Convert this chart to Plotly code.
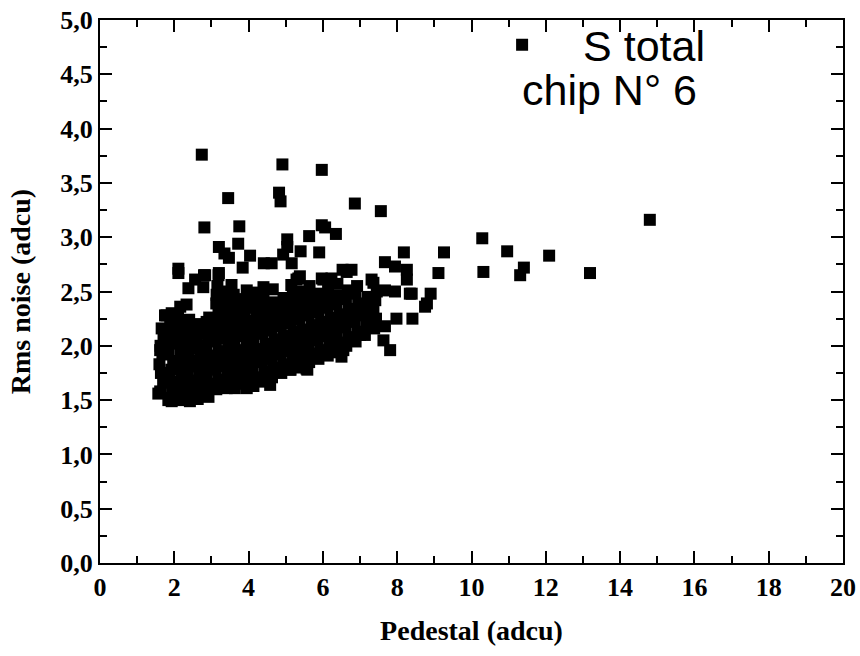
import plotly.graph_objects as go

# pedestal (adcu) and rms noise (adcu) per strip
pedestal = [
    2.74, 4.91, 5.97, 3.45, 4.82, 4.86, 2.81, 3.75, 5.97, 6.06, 5.63, 5.04, 5.04, 3.72, 3.20, 3.35,
    3.47, 4.04, 5.40, 5.90, 4.93, 4.41, 4.62, 5.16, 3.84, 2.11, 2.11, 2.80, 3.20, 5.34, 5.97, 2.56,
    6.86, 7.56, 6.35, 10.29, 8.18, 9.26, 6.53, 6.77, 7.67, 7.94, 8.26, 9.11, 10.32, 7.31, 6.23, 5.38,
    10.96, 12.09, 11.41, 11.31, 13.19, 14.80,
    8.26, 8.39, 8.90, 8.75, 7.98, 8.41, 7.67, 7.63, 7.81, 7.36, 7.94, 5.58,
    2.38, 1.75, 1.62, 1.57, 1.84, 2.42, 2.92, 4.58, 3.41, 3.95, 1.93, 2.78, 3.14, 3.54, 3.95, 4.40,
    2.83, 3.19, 4.93, 4.21, 2.33, 2.87, 1.97, 1.79,
    5.29, 5.65, 6.01, 6.64, 8.80, 7.00, 6.55, 6.50, 5.11, 5.56, 7.67, 8.34,
    1.62, 1.70, 1.64, 1.60, 1.68, 1.63, 1.71, 1.66,
    1.88, 1.94, 1.86, 1.92, 1.97, 1.85, 1.91, 1.95, 1.89, 1.93,
    2.12, 2.18, 2.14, 2.20, 2.11, 2.17, 2.13, 2.19, 2.15, 2.10, 2.16,
    2.38, 2.44, 2.36, 2.42, 2.39, 2.45, 2.37, 2.43, 2.40,
    2.63, 2.68, 2.62, 2.67, 2.64, 2.70, 2.61, 2.66, 2.69,
    2.88, 2.93, 2.86, 2.91, 2.95, 2.87, 2.92, 2.89, 2.94,
    3.13, 3.18, 3.11, 3.16, 3.20, 3.12, 3.17, 3.14, 3.19, 3.13, 3.16,
    3.38, 3.43, 3.36, 3.41, 3.45, 3.37, 3.42, 3.39, 3.44, 3.40, 3.36,
    3.63, 3.68, 3.61, 3.66, 3.70, 3.62, 3.67, 3.64, 3.69, 3.65, 3.60,
    3.88, 3.93, 3.86, 3.91, 3.95, 3.87, 3.92, 3.89, 3.94, 3.90,
    4.13, 4.18, 4.11, 4.16, 4.20, 4.12, 4.17, 4.14, 4.19, 4.15,
    4.38, 4.43, 4.36, 4.41, 4.45, 4.37, 4.42, 4.39, 4.44, 4.40,
    4.63, 4.68, 4.61, 4.66, 4.70, 4.62, 4.67, 4.64, 4.69, 4.65,
    4.88, 4.93, 4.86, 4.91, 4.95, 4.87, 4.92, 4.89, 4.94,
    5.13, 5.18, 5.11, 5.16, 5.20, 5.12, 5.17, 5.14, 5.19, 5.15,
    5.38, 5.43, 5.36, 5.41, 5.45, 5.37, 5.42, 5.39, 5.44,
    5.63, 5.68, 5.61, 5.66, 5.70, 5.62, 5.67, 5.64,
    5.88, 5.93, 5.86, 5.91, 5.95, 5.87, 5.92, 5.89,
    6.13, 6.18, 6.11, 6.16, 6.20, 6.12, 6.17, 6.14,
    6.38, 6.43, 6.36, 6.41, 6.45, 6.37, 6.42, 6.39,
    6.63, 6.68, 6.61, 6.66, 6.70, 6.62, 6.67,
    6.88, 6.93, 6.86, 6.91, 6.95, 6.87, 6.92,
    7.13, 7.18, 7.11, 7.16, 7.20,
    7.38, 7.43, 7.36, 7.41, 7.45,
]
rms_noise = [
    3.76, 3.67, 3.62, 3.36, 3.41, 3.33, 3.09, 3.10, 3.11, 3.09, 3.01, 2.98, 2.91, 2.94, 2.91, 2.85,
    2.81, 2.83, 2.87, 2.86, 2.84, 2.76, 2.76, 2.76, 2.72, 2.71, 2.67, 2.65, 2.67, 2.62, 2.62, 2.61,
    3.31, 3.24, 3.03, 2.99, 2.86, 2.86, 2.70, 2.70, 2.77, 2.73, 2.70, 2.67, 2.68, 2.61, 2.62, 2.64,
    2.87, 2.83, 2.72, 2.65, 2.67, 3.16,
    2.61, 2.48, 2.48, 2.36, 2.25, 2.25, 2.18, 2.05, 1.96, 2.58, 2.50, 1.78,
    2.53, 2.28, 1.96, 1.56, 1.50, 1.49, 1.53, 1.64, 1.61, 1.61, 1.49, 2.54, 2.47, 2.56, 2.51, 2.54,
    2.65, 2.65, 2.21, 2.31, 2.38, 2.22, 2.13, 2.28,
    2.61, 2.47, 2.61, 2.68, 2.39, 2.10, 1.96, 1.90, 1.78, 1.79, 2.51, 2.48,
    1.58, 1.66, 1.75, 1.83, 1.92, 2.00, 2.08, 2.16,
    1.52, 1.60, 1.69, 1.78, 1.86, 1.95, 2.03, 2.12, 2.20, 2.30,
    1.50, 1.58, 1.67, 1.75, 1.84, 1.93, 2.02, 2.10, 2.19, 2.27, 2.36,
    1.55, 1.63, 1.72, 1.81, 1.90, 1.98, 2.07, 2.15, 2.24,
    1.51, 1.60, 1.68, 1.77, 1.86, 1.94, 2.03, 2.12, 2.20,
    1.57, 1.65, 1.74, 1.83, 1.91, 2.00, 2.09, 2.17, 2.26,
    1.60, 1.69, 1.78, 1.86, 1.95, 2.04, 2.12, 2.21, 2.30, 2.39, 2.55,
    1.64, 1.72, 1.81, 1.90, 1.99, 2.07, 2.16, 2.25, 2.33, 2.42, 2.50,
    1.61, 1.70, 1.78, 1.87, 1.96, 2.04, 2.13, 2.22, 2.31, 2.40, 2.47,
    1.65, 1.74, 1.82, 1.91, 2.00, 2.09, 2.17, 2.26, 2.35, 2.43,
    1.63, 1.71, 1.80, 1.89, 1.97, 2.06, 2.14, 2.23, 2.41, 2.49,
    1.67, 1.76, 1.85, 1.93, 2.02, 2.11, 2.19, 2.28, 2.36, 2.45,
    1.71, 1.80, 1.88, 1.97, 2.06, 2.14, 2.23, 2.31, 2.40, 2.52,
    1.75, 1.83, 1.92, 2.01, 2.09, 2.18, 2.27, 2.35, 2.44,
    1.78, 1.87, 1.95, 2.04, 2.13, 2.21, 2.30, 2.39, 2.48, 2.56,
    1.80, 1.89, 1.98, 2.06, 2.15, 2.24, 2.32, 2.41, 2.50,
    1.85, 1.93, 2.02, 2.11, 2.19, 2.28, 2.37, 2.55,
    1.88, 1.96, 2.05, 2.14, 2.22, 2.31, 2.40, 2.48,
    1.91, 2.00, 2.09, 2.17, 2.26, 2.35, 2.43, 2.52,
    1.94, 2.03, 2.12, 2.20, 2.29, 2.38, 2.46, 2.57,
    2.00, 2.08, 2.17, 2.25, 2.34, 2.43, 2.51,
    2.04, 2.13, 2.22, 2.30, 2.39, 2.48, 2.55,
    2.10, 2.19, 2.28, 2.36, 2.45,
    2.16, 2.25, 2.33, 2.42, 2.50,
]

x_ticks = [0, 2, 4, 6, 8, 10, 12, 14, 16, 18, 20]
y_ticks = [0.0, 0.5, 1.0, 1.5, 2.0, 2.5, 3.0, 3.5, 4.0, 4.5, 5.0]

tick_font = dict(family='Liberation Serif', size=26, color='black', weight='bold')
title_font = dict(family='Liberation Serif', size=28, color='black', weight='bold')

fig = go.Figure()
fig.add_trace(go.Scatter(
    x=pedestal,
    y=rms_noise,
    mode='markers',
    name='S total',
    marker=dict(symbol='square', size=12, color='black', line=dict(width=0)),
))

axis_common = dict(
    showline=True,
    linecolor='black',
    linewidth=2,
    mirror='ticks',
    ticks='inside',
    ticklen=12,
    tickwidth=2,
    tickcolor='black',
    showgrid=False,
    zeroline=False,
    automargin=False,
    tickfont=tick_font,
)

fig.update_xaxes(
    range=[0, 20],
    tickvals=x_ticks,
    minor=dict(ticks='inside', dtick=1, ticklen=7, tickwidth=2, tickcolor='black'),
    title=dict(text='Pedestal (adcu)', font=title_font, standoff=19),
    **axis_common
)
fig.update_yaxes(
    range=[0, 5],
    tickvals=y_ticks,
    tickformat='.1f',
    minor=dict(ticks='inside', dtick=0.25, ticklen=7, tickwidth=2, tickcolor='black'),
    title=dict(text='Rms noise (adcu)', font=title_font, standoff=21),
    **axis_common
)

fig.add_annotation(
    text='chip N° 6',
    xref='paper', yref='paper',
    x=0.5654, y=0.872,
    xanchor='left', yanchor='middle',
    showarrow=False,
    font=dict(family='Liberation Sans', size=43, color='black'),
)

fig.update_layout(
    width=860,
    height=656,
    margin=dict(l=100, r=17, t=20, b=93, autoexpand=False),
    paper_bgcolor='white',
    plot_bgcolor='white',
    separators=', ',
    showlegend=True,
    legend=dict(
        x=0.486, y=1.018,
        xanchor='left', yanchor='top',
        bgcolor='rgba(0,0,0,0)',
        itemwidth=112,
        font=dict(family='Liberation Sans', size=43, color='black'),
    ),
)

fig.write_html("out.html", config={'displayModeBar': False},
               post_script="document.body.style.margin='0';")
